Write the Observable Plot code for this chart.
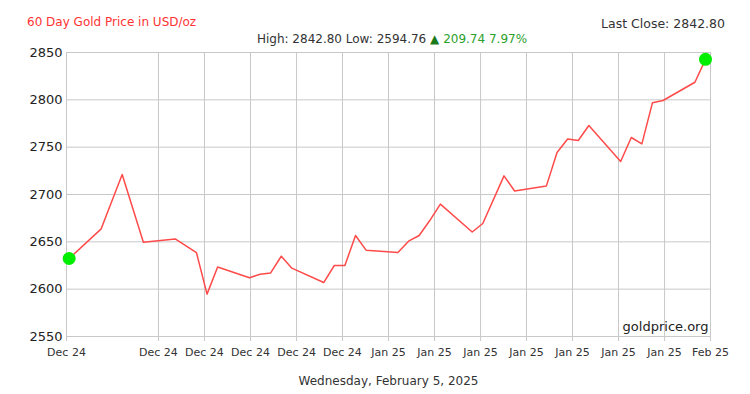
<!DOCTYPE html>
<html><head><meta charset="utf-8">
<script src="https://cdn.jsdelivr.net/npm/d3@7"></script>
<script src="https://cdn.jsdelivr.net/npm/@observablehq/plot@0.6"></script>
<style>
body{margin:0;background:#fff;font-family:"DejaVu Sans",sans-serif;}
#wrap{position:relative;width:750px;height:394px;overflow:hidden;}
#chart{position:absolute;left:0;top:0;}
.t{position:absolute;white-space:nowrap;line-height:14px;font-size:12px;color:#333;}
</style></head><body><div id="wrap">
<div id="chart"></div>
<div class="t" style="left:27px;top:15px;color:#ff3333">60 Day Gold Price in USD/oz</div>
<div class="t" style="right:25px;top:17px;font-size:12.5px">Last Close: 2842.80</div>
<div class="t" style="left:0;width:784px;text-align:center;top:32px;">High: 2842.80 Low: 2594.76 <span style="color:#1a7a1a">&#9650;</span> <span style="color:#2ca02c">209.74 7.97%</span></div>
<div class="t" style="left:0;width:777px;text-align:center;top:374px;">Wednesday, February 5, 2025</div>
</div>
<script>
const dates = ["2024-12-06","2024-12-09","2024-12-11","2024-12-13","2024-12-16","2024-12-18","2024-12-19","2024-12-20",
"2024-12-23","2024-12-24","2024-12-25","2024-12-26","2024-12-27","2024-12-30","2024-12-31","2025-01-01","2025-01-02","2025-01-03",
"2025-01-06","2025-01-07","2025-01-08","2025-01-09","2025-01-10","2025-01-13","2025-01-14","2025-01-16","2025-01-17",
"2025-01-20","2025-01-21","2025-01-22","2025-01-23","2025-01-24","2025-01-27","2025-01-28","2025-01-29","2025-01-30","2025-01-31",
"2025-02-03","2025-02-04"];
const prices = [2632.4,2663.4,2721.1,2649.6,2653.1,2638.7,2594.76,2623.5,
2612.0,2615.7,2617.2,2634.8,2622.2,2607.0,2625.0,2625.0,2656.7,2641.2,
2638.7,2650.7,2656.7,2672.5,2689.8,2660.4,2669.4,2719.7,2703.7,
2709.1,2744.4,2758.7,2757.0,2772.9,2734.9,2760.2,2753.5,2797.0,2799.3,
2818.6,2842.80];
const tickDates = ["2024-12-05T18:00Z","2024-12-14T10:05Z","2024-12-18T18:14Z","2024-12-23T02:24Z","2024-12-27T10:34Z",
"2024-12-31T18:29Z","2025-01-05T02:38Z","2025-01-09T10:48Z","2025-01-13T18:58Z","2025-01-18T02:53Z","2025-01-22T11:02Z",
"2025-01-26T19:12Z","2025-01-31T03:22Z","2025-02-04T11:17Z"];
const tickLabels = ["Dec 24","Dec 24","Dec 24","Dec 24","Dec 24","Dec 24","Jan 25","Jan 25","Jan 25","Jan 25","Jan 25","Jan 25","Jan 25","Feb 25"];
const yTicks = [2550,2600,2650,2700,2750,2800,2850];

const data = dates.map((d,i)=>({date:new Date(d+"T00:00Z"), price:prices[i]}));
const xt = tickDates.map(d=>new Date(d));
const ends = [data[0], data[data.length-1]];

const chart = Plot.plot({
  width:750, height:394,
  marginTop:52, marginBottom:58, marginLeft:66, marginRight:40,
  style:{fontFamily:"DejaVu Sans, sans-serif", background:"#fff"},
  x:{type:"utc", domain:[xt[0], xt[xt.length-1]]},
  y:{domain:[2550,2850]},
  marks:[
    Plot.gridY(yTicks,{stroke:"#c8c8c8",strokeOpacity:1}),
    Plot.gridX(xt,{stroke:"#c8c8c8",strokeOpacity:1}),
    Plot.axisX(xt,{tickSize:5,tickPadding:7,stroke:"#c8c8c8",fill:"#333",fontSize:11,
      tickFormat:(d)=>tickLabels[xt.findIndex(t=>+t===+d)], label:null}),
    Plot.axisY(yTicks,{tickSize:0,tickPadding:4,fill:"#222",fontSize:13,tickFormat:"d",label:null}),
    Plot.line(data,{x:"date",y:"price",stroke:"#ff4a4a",strokeWidth:1.5}),
    Plot.dot(ends,{x:"date",y:"price",r:6.5,fill:"#00ee00",stroke:null}),
    Plot.text(["goldprice.org"],{frameAnchor:"bottom-right",dx:-2,dy:-6,fontSize:13,fill:"#222"})
  ]
});
document.getElementById("chart").appendChild(chart);
</script>
</body></html>
